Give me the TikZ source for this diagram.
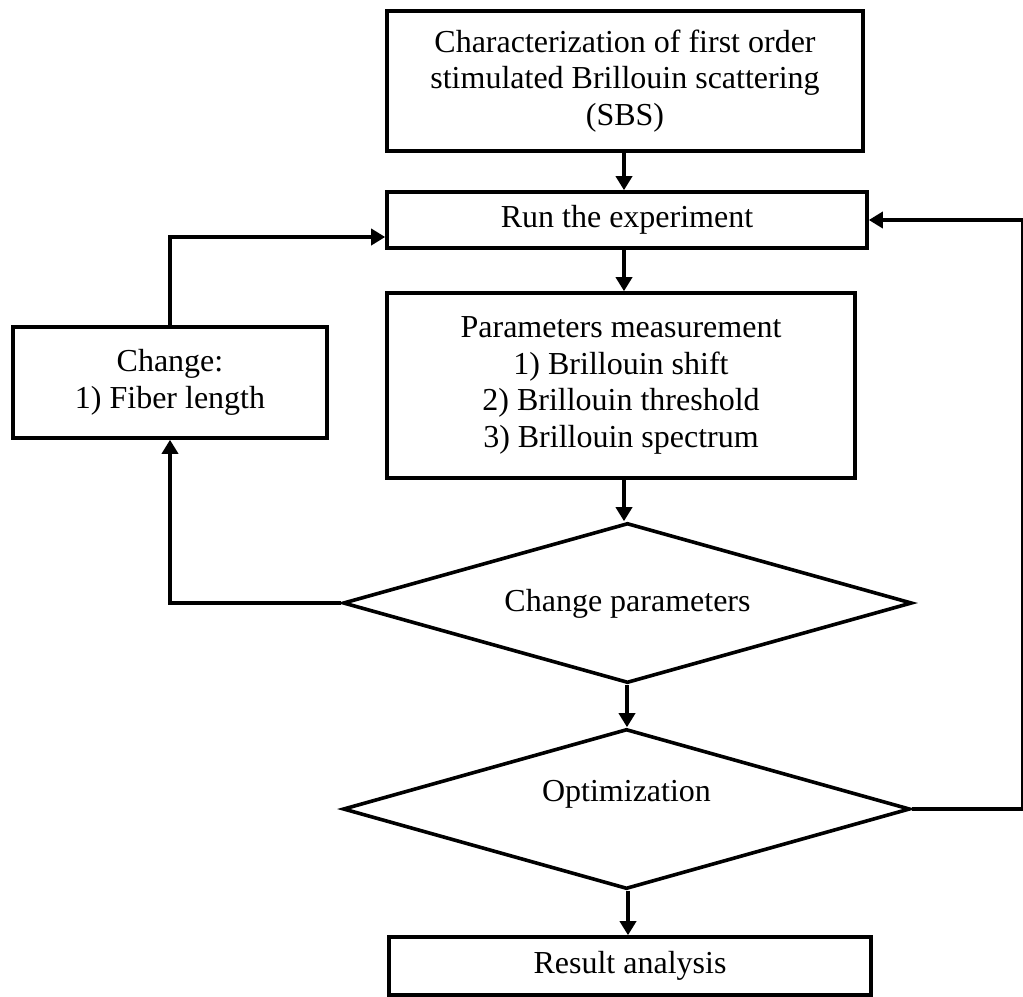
\documentclass[tikz,border=0pt]{standalone}
\usepackage{fontspec}
\setmainfont{Liberation Serif}
\usetikzlibrary{shapes.geometric,arrows.meta,calc}
\begin{document}
\begin{tikzpicture}[x=0.75pt,y=-0.75pt,
  every node/.style={font=\fontsize{24}{27.5}\selectfont},
  box/.style={draw,line width=2.7pt,rectangle,inner sep=0pt,align=center},
  decision/.style={draw,line width=2.7pt,diamond,inner sep=0pt},
  arr/.style={line width=2.7pt,-{Triangle[length=10.5pt,width=12pt]}}]
\fill[white] (0,0) rectangle (1023,996);
\useasboundingbox (0,0) rectangle (1023,996);

% main column
\node[box,minimum width=357pt,minimum height=105pt] (top) at (625,81)
  {Characterization of first order\\stimulated Brillouin scattering\\(SBS)};
\node[box,minimum width=360pt,minimum height=42pt] (run) at (627,220)
  {Run the experiment};
\node[box,minimum width=351pt,minimum height=138.75pt] (param) at (621,385.5)
  {Parameters measurement\\1) Brillouin shift\\2) Brillouin threshold\\3) Brillouin spectrum};
\node[decision,minimum width=426.75pt,minimum height=120pt,
  label={[yshift=-1pt]center:Change parameters}] (d1) at (627.5,603) {};
\node[decision,minimum width=425.25pt,minimum height=120pt,
  label={[yshift=11pt]center:Optimization}] (d2) at (626.5,809) {};
\node[box,minimum width=361.5pt,minimum height=43.5pt] (res) at (630,966)
  {Result analysis};

% side box
\node[box,minimum width=235.5pt,minimum height=83.25pt] (chg) at (170,382.5)
  {Change:\\1) Fiber length};

% downward flow
\draw[arr] (top.south -| 624,0) -- (run.north -| 624,0);
\draw[arr] (run.south -| 624,0) -- (param.north -| 624,0);
\draw[arr] (param.south -| 624,0) -- (d1.north -| 624,0);
\draw[arr] (d1.south -| 627,0) -- (d2.north -| 627,0);
\draw[arr] (d2.south -| 628,0) -- (res.north -| 628,0);

% left loop
\draw[arr] (d1.west) -| (chg.south);
\draw[arr] (chg.north) |- ($(run.west)+(0,17)$);

% right loop
\coordinate (edge) at (1022.5,0);
\draw[arr] (d2.east) -| (edge |- run.east) -- (run.east);
\end{tikzpicture}
\end{document}
